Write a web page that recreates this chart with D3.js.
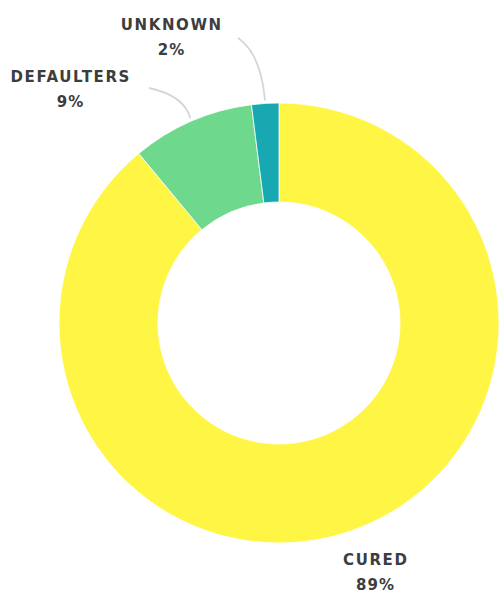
<!DOCTYPE html>
<html>
<head>
<meta charset="utf-8">
<script src="https://cdn.jsdelivr.net/npm/d3@7"></script>
<style>
  html, body { margin: 0; padding: 0; background: #ffffff; }
  svg { display: block; }
  .lbl { font-family: "DejaVu Sans", sans-serif; font-weight: bold; fill: #3d3d3d; }
</style>
</head>
<body>
<svg id="chart" width="504" height="594"></svg>
<script>
// ---- data ----
const categories = ["CURED", "DEFAULTERS", "UNKNOWN"];
const values = [89, 9, 2];
const colors = ["#FFF545", "#6ED88C", "#17A8B1"];

// ---- layout (not data) ----
const W = 504, H = 594;
const cx = 279, cy = 323;
const outerR = 220, innerR = 121;
// label anchor points and leader-line start points
const labelPos = {
  "CURED":      { x: 375, y: 565, leader: false },
  "DEFAULTERS": { x: 70,  y: 82,  leader: true, sx: 149, sy: 88 },
  "UNKNOWN":    { x: 171, y: 30,  leader: true, sx: 238, sy: 38 }
};

const svg = d3.select("#chart");
const g = svg.append("g").attr("transform", `translate(${cx},${cy})`);

const data = categories.map((c, i) => ({ cat: c, value: values[i], color: colors[i] }));

const pie = d3.pie().sort(null).value(d => d.value)
  .startAngle(0).endAngle(2 * Math.PI);
const arcs = pie(data);

const arc = d3.arc().innerRadius(innerR).outerRadius(outerR);

g.selectAll("path.slice")
  .data(arcs)
  .enter().append("path")
  .attr("class", "slice")
  .attr("d", arc)
  .attr("fill", d => d.data.color)
  .attr("stroke", "#ffffff")
  .attr("stroke-width", 0.8);

// leader lines: curve from near label to the outer edge at the slice's mid-angle
arcs.forEach(a => {
  const lp = labelPos[a.data.cat];
  if (!lp.leader) return;
  const mid = (a.startAngle + a.endAngle) / 2;
  const r = outerR + 3;
  const ex = cx + r * Math.sin(mid);
  const ey = cy - r * Math.cos(mid);
  const sx = lp.sx, sy = lp.sy;
  const qx = ex - (ex - sx) * 0.15;
  const qy = sy + (ey - sy) * 0.25;
  svg.append("path")
    .attr("d", `M${sx},${sy} Q${qx},${qy} ${ex},${ey}`)
    .attr("fill", "none")
    .attr("stroke", "#d6d6d6")
    .attr("stroke-width", 1.8);
});

// labels
arcs.forEach(a => {
  const lp = labelPos[a.data.cat];
  const t = svg.append("text")
    .attr("class", "lbl")
    .attr("text-anchor", "middle")
    .attr("font-size", 15)
    .style("letter-spacing", "1.6px");
  t.append("tspan").attr("x", lp.x + 0.8).attr("y", lp.y).text(a.data.cat);
  t.append("tspan").attr("x", lp.x + 0.5).attr("y", lp.y + 25)
    .style("letter-spacing", "1px")
    .text(a.data.value + "%");
});
</script>
</body>
</html>
